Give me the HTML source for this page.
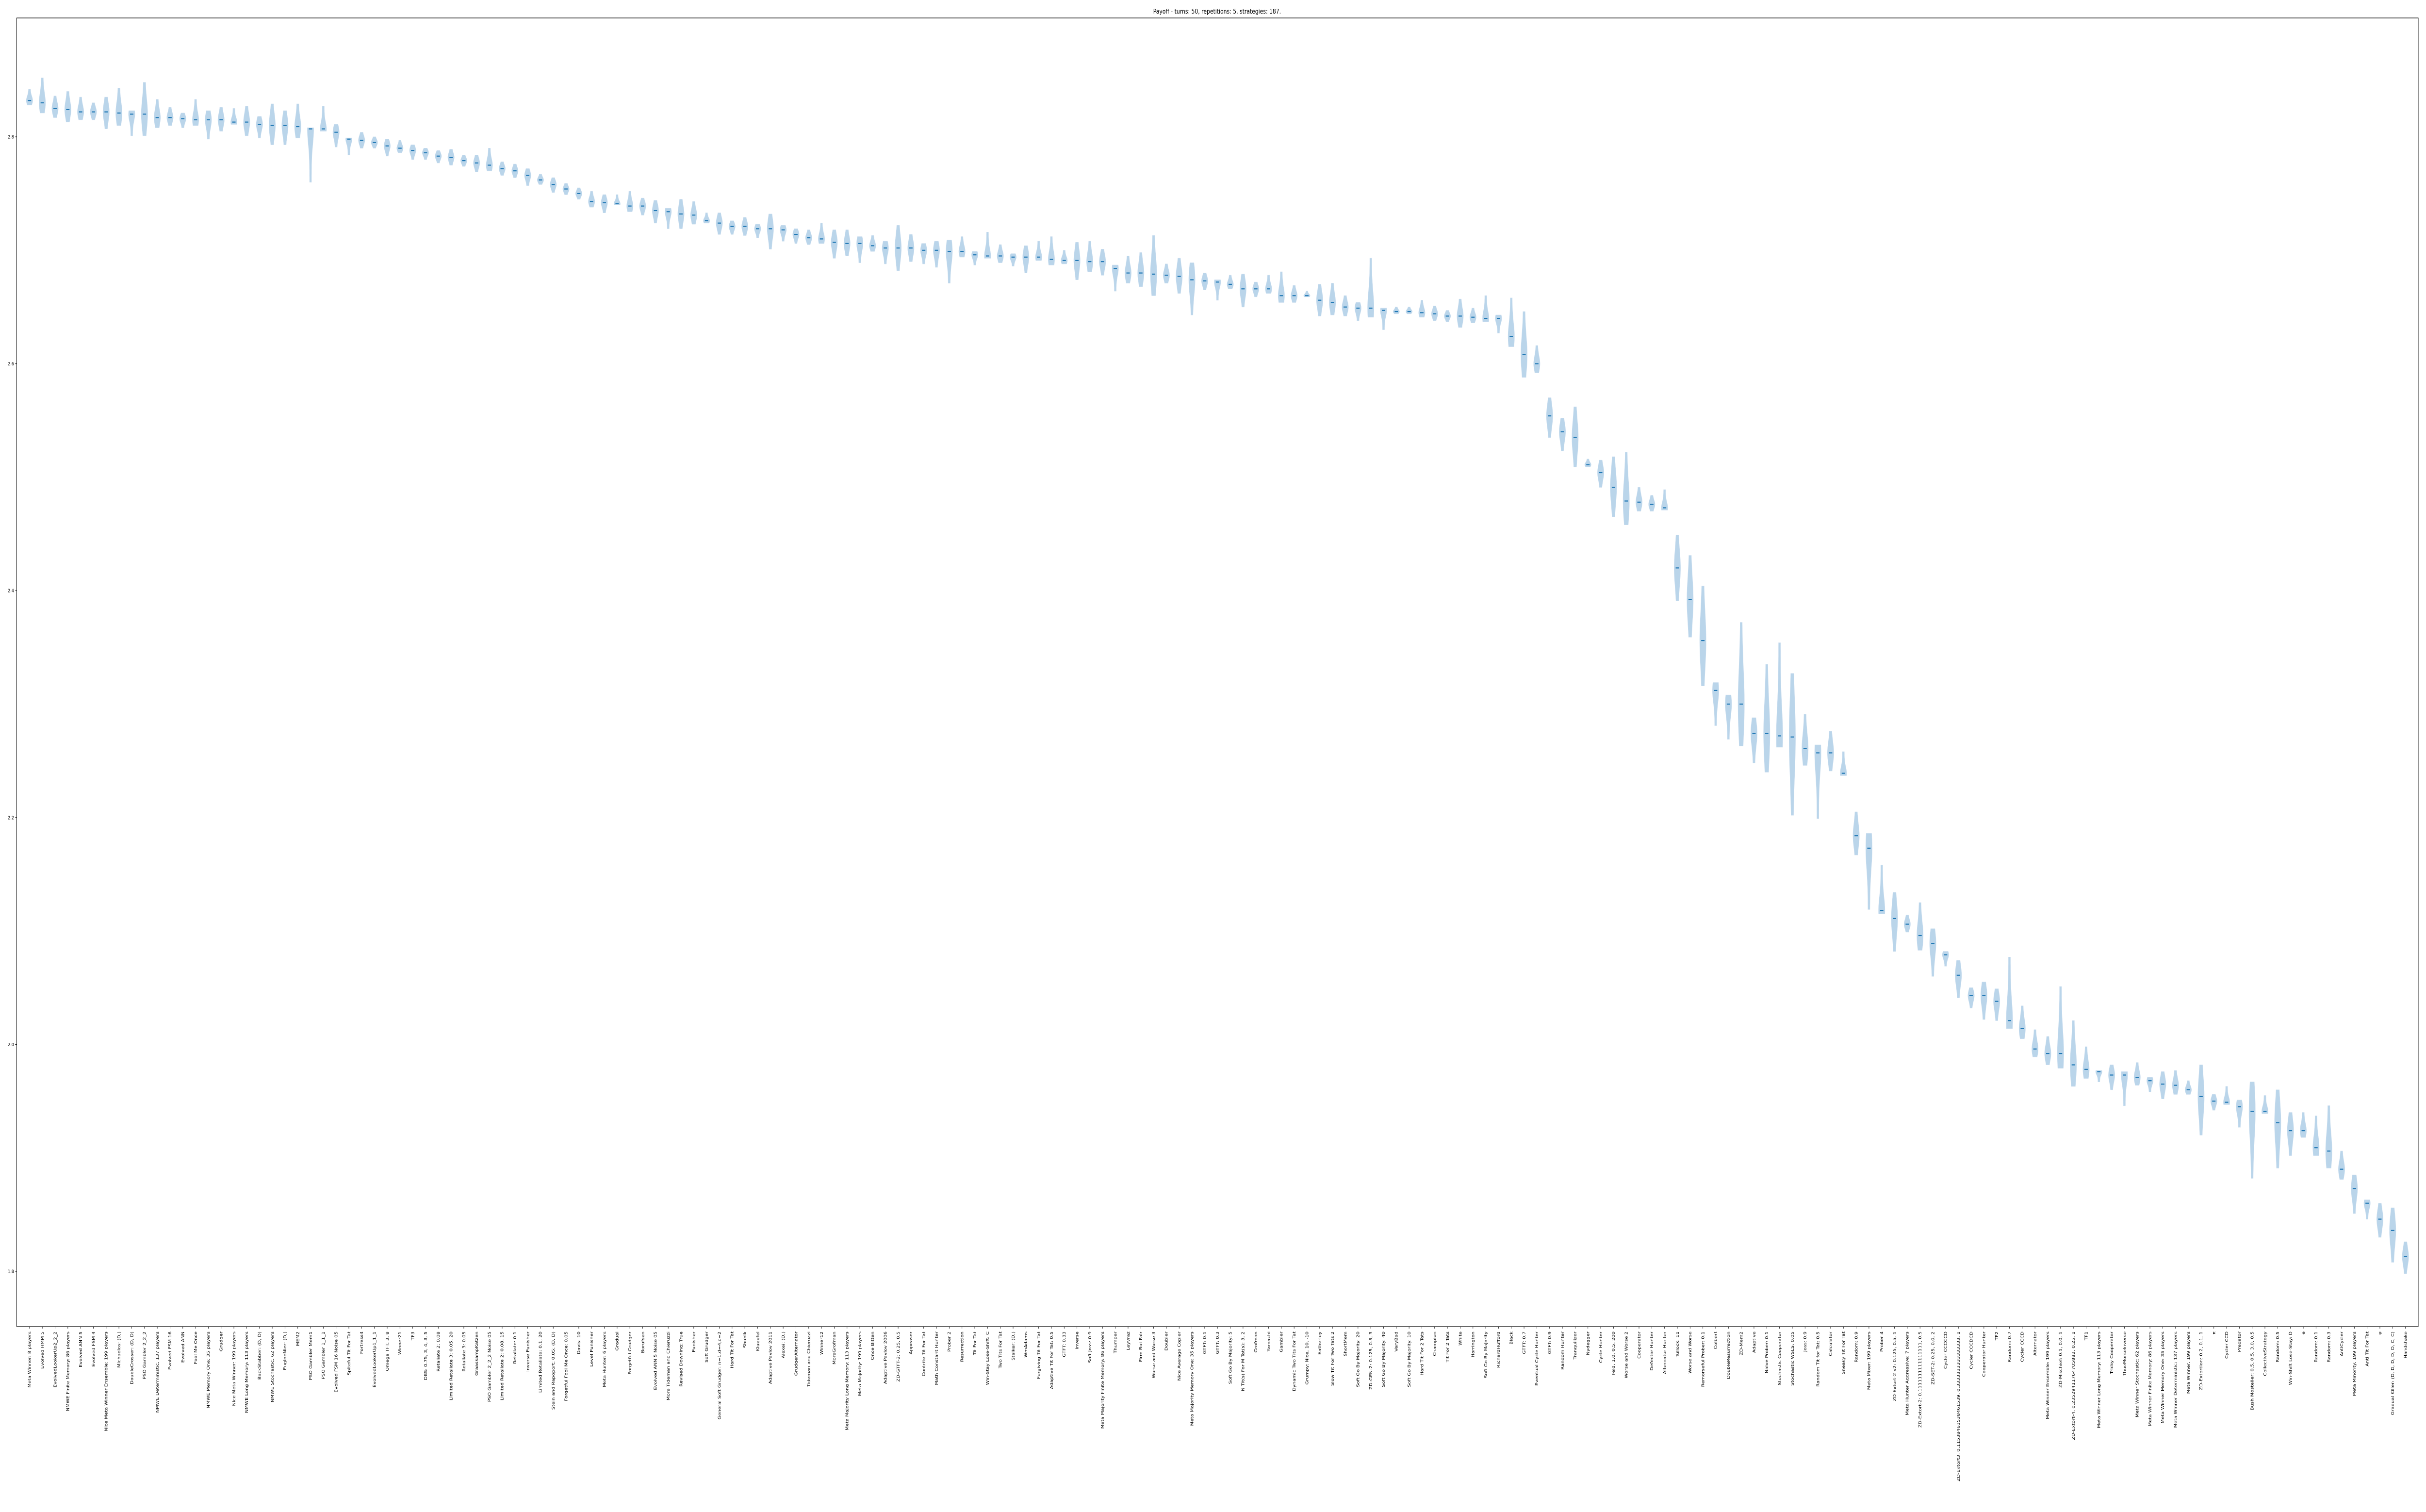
<!DOCTYPE html>
<html><head><meta charset="utf-8"><style>
html,body{margin:0;padding:0;background:#fff;width:100%;height:100%;overflow:hidden;}
#chart{display:block;width:100vw;height:100vh;}
svg text{font-family:"DejaVu Sans","Liberation Sans",sans-serif;}
</style></head><body>
<svg id="chart" viewBox="0 0 6233 3116" preserveAspectRatio="none" xmlns="http://www.w3.org/2000/svg">
<rect x="0" y="0" width="6233" height="3116" fill="#fff"/>
<text x="3127" y="28" font-size="13.5" text-anchor="middle">Payoff - turns: 50, repetitions: 5, strategies: 187.</text>
<g id="violins"></g>
<g id="yaxis"></g>
<g id="xaxis"></g>
<rect x="43" y="37" width="6170" height="2697" fill="none" stroke="#000" stroke-width="1.2"/>
</svg>
<script>
const labels = ["Meta Winner: 8 players","Evolved HMM 5","EvolvedLookerUp2_2_2","NMWE Finite Memory: 86 players","Evolved ANN 5","Evolved FSM 4","Nice Meta Winner Ensemble: 199 players","Michaelos: (D,)","DoubleCrosser: (D, D)","PSO Gambler 2_2_2","NMWE Deterministic: 137 players","Evolved FSM 16","Evolved ANN","Fool Me Once","NMWE Memory One: 35 players","Grudger","Nice Meta Winner: 199 players","NMWE Long Memory: 113 players","BackStabber: (D, D)","NMWE Stochastic: 62 players",
"EugineNier: (D,)","MEM2","PSO Gambler Mem1","PSO Gambler 1_1_1","Evolved FSM 16 Noise 05","Spiteful Tit For Tat","Fortress4","EvolvedLookerUp1_1_1","Omega TFT: 3, 8","Winner21","TF3","DBS: 0.75, 3, 4, 3, 5","Retaliate 2: 0.08","Limited Retaliate 3: 0.05, 20","Retaliate 3: 0.05","GraaskampKatzen","PSO Gambler 2_2_2 Noise 05","Limited Retaliate 2: 0.08, 15","Retaliate: 0.1","Inverse Punisher",
"Limited Retaliate: 0.1, 20","Stein and Rapoport: 0.05: (D, D)","Forgetful Fool Me Once: 0.05","Davis: 10","Level Punisher","Meta Hunter: 6 players","Gradual","Forgetful Grudger","Borufsen","Evolved ANN 5 Noise 05","More Tideman and Chieruzzi","Revised Downing: True","Punisher","Soft Grudger","General Soft Grudger: n=1,d=4,c=2","Hard Tit For Tat","Shubik","Kluepfel","Adaptive Pavlov 2011","Alexei: (D,)","GrudgerAlternator",
"Tideman and Chieruzzi","Winner12","MoreGrofman","Meta Majority Long Memory: 113 players","Meta Majority: 199 players","Once Bitten","Adaptive Pavlov 2006","ZD-GTFT-2: 0.25, 0.5","Appeaser","Contrite Tit For Tat","Math Constant Hunter","Prober 2","Resurrection","Tit For Tat","Win-Stay Lose-Shift: C","Two Tits For Tat","Stalker: (D,)","WmAdams","Forgiving Tit For Tat","Adaptive Tit For Tat: 0.5","GTFT: 0.33",
"Inverse","Soft Joss: 0.9","Meta Majority Finite Memory: 86 players","Thumper","Leyvraz","Firm But Fair","Worse and Worse 3","Doubler","Nice Average Copier","Meta Majority Memory One: 35 players","GTFT: 0.1","GTFT: 0.3","Soft Go By Majority: 5","N Tit(s) For M Tat(s): 3, 2","Grofman","Yamachi","Gambler","Dynamic Two Tits For Tat","Grumpy: Nice, 10, -10","Eatherley","Slow Tit For Two Tats 2",
"ShortMem","Soft Go By Majority: 20","ZD-GEN-2: 0.125, 0.5, 3","Soft Go By Majority: 40","VeryBad","Soft Go By Majority: 10","Hard Tit For 2 Tats","Champion","Tit For 2 Tats","White","Harrington","Soft Go By Majority","RichardHufford","Black","GTFT: 0.7","Eventual Cycle Hunter","GTFT: 0.9","Random Hunter","Tranquilizer","Nydegger","Cycle Hunter",
"Feld: 1.0, 0.5, 200","Worse and Worse 2","Cooperator","Defector Hunter","Alternator Hunter","Tullock: 11","Worse and Worse","Remorseful Prober: 0.1","Colbert","DoubleResurrection","ZD-Mem2","Adaptive","Naive Prober: 0.1","Stochastic Cooperator","Stochastic WSLS: 0.05","Joss: 0.9","Random Tit for Tat: 0.5","Calculator","Sneaky Tit For Tat","Random: 0.9","Meta Mixer: 199 players",
"Prober 4","ZD-Extort-2 v2: 0.125, 0.5, 1","Meta Hunter Aggressive: 7 players","ZD-Extort-2: 0.1111111111111111, 0.5","ZD-SET-2: 0.25, 0.0, 2","Cycler CCCCCD","ZD-Extort3: 0.11538461538461539, 0.3333333333333333, 1","Cycler CCCDCD","Cooperator Hunter","TF2","Random: 0.7","Cycler CCCD","Alternator","Meta Winner Ensemble: 199 players","ZD-Mischief: 0.1, 0.0, 1","ZD-Extort-4: 0.23529411764705882, 0.25, 1","TF1","Meta Winner Long Memory: 113 players","Tricky Cooperator","ThueMorseInverse","Meta Winner Stochastic: 62 players",
"Meta Winner Finite Memory: 86 players","Meta Winner Memory One: 35 players","Meta Winner Deterministic: 137 players","Meta Winner: 199 players","ZD-Extortion: 0.2, 0.1, 1","\u03c0","Cycler CCD","Predator","Bush Mosteller: 0.5, 0.5, 3.0, 0.5","CollectiveStrategy","Random: 0.5","Win-Shift Lose-Stay: D","e","Random: 0.1","Random: 0.3","AntiCycler","Meta Minority: 199 players","Anti Tit For Tat","\u03c6","Gradual Killer: (D, D, D, D, D, C, C)","Handshake"];

const medians = [2.832,2.830,2.825,2.824,2.822,2.822,2.822,2.821,2.820,2.820,2.817,2.817,2.816,2.815,2.815,2.815,2.813,2.813,2.811,2.810,
2.810,2.809,2.807,2.807,2.804,2.798,2.797,2.795,2.792,2.790,2.788,2.786,2.783,2.782,2.779,2.777,2.775,2.772,2.770,2.766,
2.762,2.758,2.754,2.750,2.743,2.742,2.741,2.739,2.739,2.735,2.734,2.732,2.731,2.726,2.724,2.721,2.721,2.719,2.719,2.718,
2.714,2.711,2.710,2.707,2.706,2.706,2.704,2.702,2.702,2.702,2.700,2.700,2.699,2.699,2.696,2.695,2.695,2.694,2.694,2.694,
2.692,2.691,2.691,2.690,2.690,2.684,2.680,2.680,2.679,2.678,2.677,2.674,2.673,2.672,2.670,2.666,2.666,2.666,2.660,2.660,
2.660,2.656,2.654,2.650,2.649,2.649,2.647,2.646,2.646,2.645,2.644,2.642,2.642,2.641,2.640,2.640,2.624,2.608,2.600,2.554,
2.540,2.535,2.511,2.504,2.491,2.479,2.478,2.476,2.473,2.420,2.392,2.356,2.312,2.300,2.300,2.274,2.274,2.272,2.271,2.261,
2.257,2.257,2.239,2.184,2.173,2.118,2.111,2.106,2.096,2.089,2.079,2.061,2.043,2.043,2.038,2.021,2.014,1.996,1.992,1.992,
1.982,1.978,1.976,1.973,1.973,1.971,1.968,1.965,1.964,1.960,1.954,1.950,1.949,1.945,1.941,1.941,1.931,1.924,1.924,1.909,
1.906,1.890,1.873,1.860,1.846,1.836,1.813];

const maxima = [2.842,2.852,2.836,2.840,2.835,2.830,2.835,2.843,2.823,2.848,2.833,2.826,2.821,2.833,2.823,2.826,2.825,2.827,2.818,2.829,
2.823,2.829,2.808,2.827,2.811,2.799,2.804,2.800,2.798,2.797,2.793,2.790,2.788,2.789,2.784,2.784,2.790,2.778,2.776,2.772,
2.767,2.764,2.759,2.755,2.752,2.749,2.749,2.752,2.746,2.744,2.737,2.745,2.743,2.733,2.733,2.726,2.729,2.723,2.732,2.722,
2.719,2.718,2.724,2.718,2.718,2.712,2.713,2.708,2.722,2.714,2.706,2.708,2.709,2.712,2.699,2.716,2.705,2.697,2.704,2.708,
2.712,2.700,2.707,2.708,2.701,2.687,2.695,2.698,2.713,2.688,2.693,2.689,2.680,2.674,2.678,2.679,2.672,2.678,2.681,2.669,
2.664,2.670,2.671,2.660,2.654,2.693,2.649,2.650,2.650,2.656,2.651,2.647,2.657,2.649,2.660,2.643,2.658,2.646,2.616,2.570,
2.552,2.562,2.516,2.515,2.518,2.522,2.491,2.484,2.489,2.449,2.431,2.404,2.319,2.308,2.372,2.288,2.335,2.354,2.327,2.291,
2.264,2.276,2.258,2.205,2.186,2.158,2.134,2.114,2.125,2.102,2.082,2.074,2.050,2.055,2.049,2.077,2.034,2.013,2.007,2.051,
2.021,1.998,1.977,1.982,1.976,1.984,1.971,1.976,1.977,1.968,1.982,1.956,1.963,1.951,1.967,1.955,1.960,1.940,1.940,1.937,
1.946,1.906,1.885,1.863,1.860,1.856,1.826];

const minima = [2.828,2.821,2.817,2.813,2.815,2.815,2.807,2.810,2.801,2.801,2.808,2.810,2.808,2.810,2.798,2.805,2.811,2.801,2.799,2.793,
2.793,2.799,2.760,2.805,2.791,2.784,2.790,2.790,2.783,2.786,2.780,2.780,2.777,2.775,2.774,2.769,2.770,2.766,2.764,2.757,
2.758,2.751,2.749,2.745,2.738,2.733,2.740,2.734,2.731,2.724,2.719,2.719,2.723,2.724,2.714,2.714,2.713,2.711,2.701,2.708,
2.706,2.705,2.706,2.693,2.695,2.689,2.699,2.688,2.682,2.690,2.688,2.685,2.671,2.694,2.687,2.693,2.689,2.686,2.680,2.691,
2.687,2.688,2.674,2.681,2.678,2.664,2.671,2.668,2.660,2.671,2.662,2.643,2.665,2.656,2.666,2.650,2.659,2.662,2.654,2.654,
2.659,2.642,2.643,2.642,2.638,2.641,2.630,2.644,2.644,2.641,2.638,2.637,2.632,2.636,2.637,2.627,2.615,2.588,2.592,2.535,
2.523,2.509,2.509,2.491,2.465,2.458,2.470,2.470,2.471,2.391,2.359,2.316,2.281,2.269,2.263,2.248,2.240,2.262,2.202,2.246,
2.199,2.241,2.237,2.167,2.119,2.115,2.082,2.099,2.083,2.060,2.069,2.041,2.032,2.022,2.021,2.014,2.005,1.989,1.982,1.979,
1.963,1.970,1.967,1.960,1.946,1.964,1.958,1.952,1.956,1.956,1.920,1.942,1.947,1.927,1.882,1.939,1.891,1.902,1.918,1.902,
1.891,1.881,1.851,1.846,1.830,1.808,1.798];

const yTicks = [1.8, 2.0, 2.2, 2.4, 2.6, 2.8];
const yTickLabels = ["1.8","2.0","2.2","2.4","2.6","2.8"];

const NS = "http://www.w3.org/2000/svg";
const plotLeft = 43, plotRight = 6213, plotTop = 37, plotBottom = 2734;
const xStart = 0, xEnd = 188;
function xScale(i){ return plotLeft + (i - xStart) / (xEnd - xStart) * (plotRight - plotLeft); }
function yScale(v){ return 282 + (2.8 - v) * 2338; }

const vg = document.getElementById('violins');
const halfW = 8.2;
for (let i = 0; i < labels.length; i++) {
  const cx = xScale(i + 1);
  const med = medians[i], hi = maxima[i], lo = minima[i];
  const yHi = yScale(hi), yLo = yScale(lo), yMed = yScale(med);
  const span = Math.max(yLo - yHi, 2);
  const s = span / 2.6;
  const steps = 24;
  const right = [], left = [];
  for (let k = 0; k <= steps; k++) {
    const y = yHi + span * k / steps;
    const w = halfW * (0.3 + 0.7 * Math.exp(-Math.pow((y - yMed) / s, 2)));
    right.push((cx + w).toFixed(1) + ',' + y.toFixed(1));
    left.unshift((cx - w).toFixed(1) + ',' + y.toFixed(1));
  }
  const poly = document.createElementNS(NS, 'polygon');
  poly.setAttribute('points', right.concat(left).join(' '));
  poly.setAttribute('fill', '#bad5ea');
  poly.setAttribute('stroke', '#c8dcee');
  poly.setAttribute('stroke-width', '0.8');
  
  
  vg.appendChild(poly);
  const ml = document.createElementNS(NS, 'line');
  ml.setAttribute('x1', (cx - 4.3).toFixed(1));
  ml.setAttribute('x2', (cx + 4.3).toFixed(1));
  ml.setAttribute('y1', yMed.toFixed(1));
  ml.setAttribute('y2', yMed.toFixed(1));
  ml.setAttribute('stroke', '#1f77b4');
  ml.setAttribute('stroke-width', '2.2');
  
  
  vg.appendChild(ml);
}

const yg = document.getElementById('yaxis');
for (let t = 0; t < yTicks.length; t++) {
  const y = yScale(yTicks[t]);
  const tk = document.createElementNS(NS, 'line');
  tk.setAttribute('x1', plotLeft - 4); tk.setAttribute('x2', plotLeft);
  tk.setAttribute('y1', y); tk.setAttribute('y2', y);
  tk.setAttribute('stroke', '#000'); tk.setAttribute('stroke-width', '1');
  
  
  yg.appendChild(tk);
  const tx = document.createElementNS(NS, 'text');
  tx.setAttribute('x', plotLeft - 7); tx.setAttribute('y', y + 3.5);
  tx.setAttribute('font-size', '10'); tx.setAttribute('text-anchor', 'end');
  tx.textContent = yTickLabels[t];
  
  
  yg.appendChild(tx);
}

const xg = document.getElementById('xaxis');
for (let i = 0; i < labels.length; i++) {
  const x = xScale(i + 1);
  const tk = document.createElementNS(NS, 'line');
  tk.setAttribute('x1', x); tk.setAttribute('x2', x);
  tk.setAttribute('y1', plotBottom); tk.setAttribute('y2', plotBottom + 4);
  tk.setAttribute('stroke', '#000'); tk.setAttribute('stroke-width', '1');
  
  
  xg.appendChild(tk);
  const tx = document.createElementNS(NS, 'text');
  tx.setAttribute('transform', 'translate(' + (x + 3.5).toFixed(1) + ',' + (plotBottom + 10) + ') rotate(-90)');
  tx.setAttribute('font-size', '10'); tx.setAttribute('text-anchor', 'end');
  tx.textContent = labels[i];
  
  
  xg.appendChild(tx);
}
</script>
</body></html>
